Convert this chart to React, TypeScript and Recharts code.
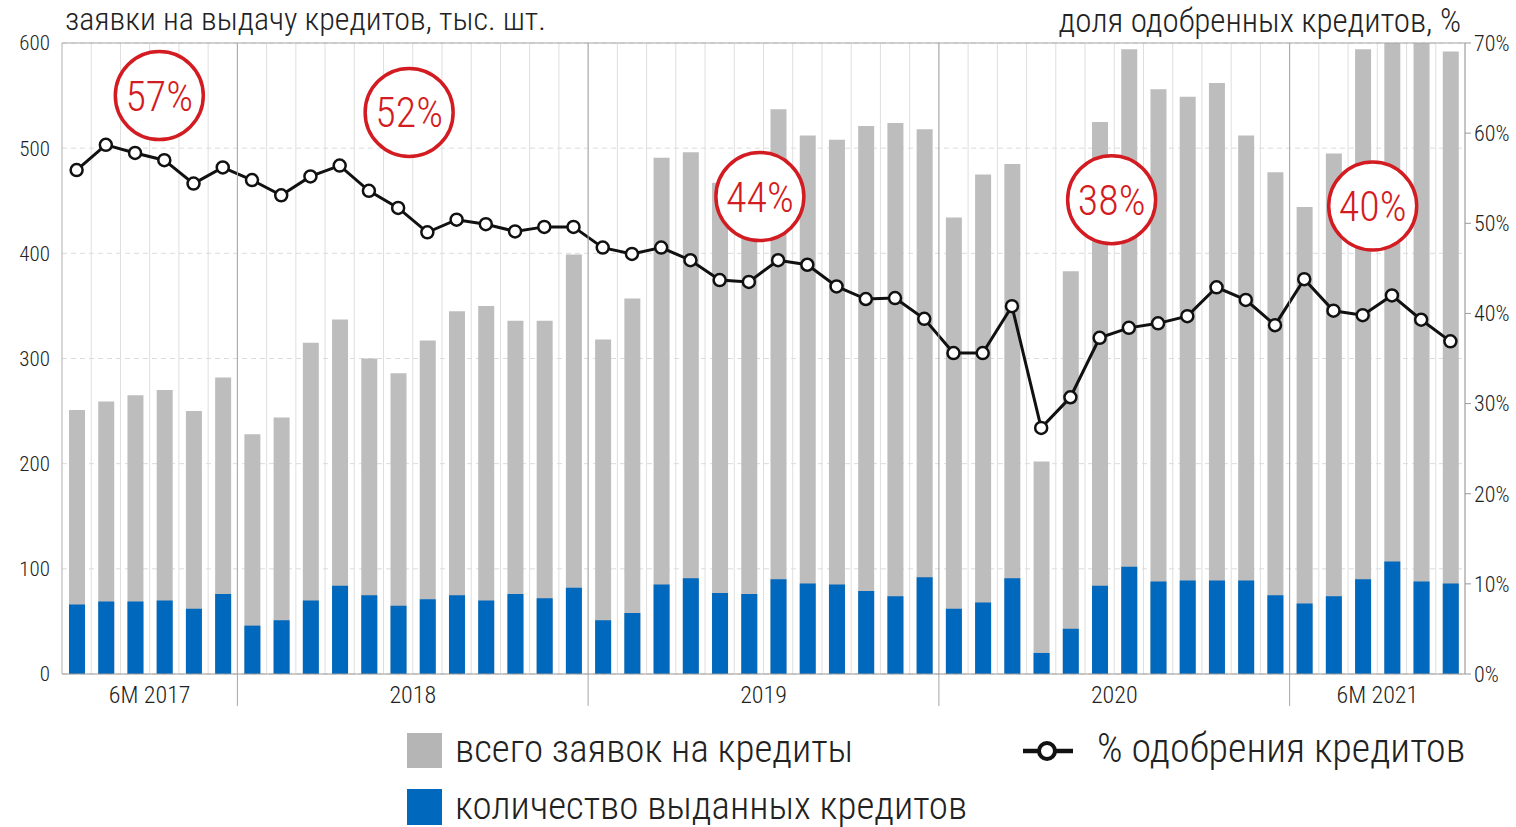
import React from "react";
import {
  ComposedChart,
  Bar,
  Line,
  XAxis,
  YAxis,
  CartesianGrid,
  ReferenceDot,
  ReferenceLine,
} from "recharts";

// months Jan 2017 .. Jun 2021
const MONTHS = [
  "2017-01", "2017-02", "2017-03", "2017-04", "2017-05", "2017-06",
  "2018-01", "2018-02", "2018-03", "2018-04", "2018-05", "2018-06",
  "2018-07", "2018-08", "2018-09", "2018-10", "2018-11", "2018-12",
  "2019-01", "2019-02", "2019-03", "2019-04", "2019-05", "2019-06",
  "2019-07", "2019-08", "2019-09", "2019-10", "2019-11", "2019-12",
  "2020-01", "2020-02", "2020-03", "2020-04", "2020-05", "2020-06",
  "2020-07", "2020-08", "2020-09", "2020-10", "2020-11", "2020-12",
  "2021-01", "2021-02", "2021-03", "2021-04", "2021-05", "2021-06",
];

// всего заявок, тыс. шт.
const TOTAL = [
  251, 259, 265, 270, 250, 282,
  228, 244, 315, 337, 300, 286, 317, 345, 350, 336, 336, 399,
  318, 357, 491, 496, 467, 450, 537, 512, 508, 521, 524, 518,
  434, 475, 485, 202, 383, 525, 594, 556, 549, 562, 512, 477,
  444, 495, 594, 620, 612, 592,
];

// выданные кредиты, тыс. шт.
const ISSUED = [
  66, 69, 69, 70, 62, 76,
  46, 51, 70, 84, 75, 65, 71, 75, 70, 76, 72, 82,
  51, 58, 85, 91, 77, 76, 90, 86, 85, 79, 74, 92,
  62, 68, 91, 20, 43, 84, 102, 88, 89, 89, 89, 75,
  67, 74, 90, 107, 88, 86,
];

// доля одобренных, %
const APPROVAL = [
  55.9, 58.7, 57.8, 57.0, 54.4, 56.2,
  54.8, 53.1, 55.2, 56.4, 53.6, 51.7, 49.0, 50.4, 49.9, 49.1, 49.6, 49.6,
  47.3, 46.6, 47.3, 45.9, 43.7, 43.5, 45.9, 45.4, 43.0, 41.6, 41.7, 39.4,
  35.6, 35.6, 40.8, 27.3, 30.7, 37.3, 38.4, 38.9, 39.7, 42.9, 41.5, 38.7,
  43.8, 40.3, 39.8, 42.0, 39.3, 36.9,
];

const GROUPS = [
  { label: "6M 2017", start: 0, len: 6 },
  { label: "2018", start: 6, len: 12 },
  { label: "2019", start: 18, len: 12 },
  { label: "2020", start: 30, len: 12 },
  { label: "6M 2021", start: 42, len: 6 },
];

// yearly averages shown in circles (month they sit near, left-axis height, nudge in px)
const BADGES = [
  { month: "2017-04", y: 550, dx: -5, text: "57%" },
  { month: "2018-06", y: 534, dx: 11, text: "52%" },
  { month: "2019-06", y: 454, dx: 11, text: "44%" },
  { month: "2020-06", y: 451, dx: 12, text: "38%" },
  { month: "2021-03", y: 445, dx: 10, text: "40%" },
];

const LEFT_TICKS = [0, 100, 200, 300, 400, 500, 600];
const RIGHT_TICKS = [0, 10, 20, 30, 40, 50, 60, 70];

const GRAY = "#bdbdbd";
const BLUE = "#0069bd";
const RED = "#d21c22";
const FONT =
  "'Roboto Condensed', 'Liberation Sans Narrow', 'DejaVu Sans Condensed', Roboto, sans-serif";

const W = 1516;
const H = 827;
const PLOT_TOP = 43;
const PLOT_BOTTOM = 674;
const PLOT_LEFT = 62;
const PLOT_RIGHT = 1465;
const BAND = (PLOT_RIGHT - PLOT_LEFT) / MONTHS.length;

const data = MONTHS.map((m, i) => ({
  month: m,
  total: TOTAL[i],
  issued: ISSUED[i],
  approval: APPROVAL[i],
}));

function GroupTick(props: any) {
  const { x, payload } = props;
  const i = payload.index;
  const half = payload.offset || BAND / 2;
  const items: React.ReactNode[] = [];
  GROUPS.forEach((g) => {
    if (i === g.start && g.start > 0) {
      items.push(
        <line
          key="sep"
          x1={x - half}
          x2={x - half}
          y1={PLOT_TOP}
          y2={PLOT_BOTTOM + 32}
          stroke="#a6a6a6"
          strokeWidth={1}
        />
      );
    }
    if (i === g.start + g.len / 2) {
      items.push(
        <text
          key="lbl"
          x={x - half}
          y={PLOT_BOTTOM + 29}
          textAnchor="middle"
          fontSize={24}
          fill="#222"
          style={{ fontFamily: FONT, fontStretch: "condensed", fontWeight: 300 }}
        >
          {g.label}
        </text>
      );
    }
  });
  return <g>{items}</g>;
}

function Badge(props: any) {
  const { cx, cy, text, dx } = props;
  const x = cx + dx;
  return (
    <g>
      <circle cx={x} cy={cy} r={44} fill="#fff" stroke={RED} strokeWidth={3.5} />
      <text
        x={x}
        y={cy + 15}
        textAnchor="middle"
        fontSize={42}
        fill={RED}
        style={{ fontFamily: FONT, fontStretch: "condensed", fontWeight: 300 }}
      >
        {text}
      </text>
    </g>
  );
}

const tickStyle = {
  fill: "#222",
  fontSize: 21,
  fontFamily: FONT,
  fontStretch: "condensed",
  fontWeight: 300,
};

export default function App() {
  return (
    <div
      style={{
        position: "absolute",
        left: 0,
        top: 0,
        width: W,
        height: H,
        background: "#fff",
        fontFamily: FONT,
        fontStretch: "condensed",
        fontWeight: 300,
        color: "#222",
      }}
    >
      <div style={{ position: "absolute", left: 65, top: 1, fontSize: 32, lineHeight: "36px", whiteSpace: "nowrap" }}>
        заявки на выдачу кредитов, тыс. шт.
      </div>
      <div
        style={{
          position: "absolute",
          right: W - 1461,
          top: 3,
          fontSize: 33,
          lineHeight: "36px",
          whiteSpace: "nowrap",
        }}
      >
        доля одобренных кредитов, %
      </div>

      <ComposedChart
        width={W}
        height={H}
        data={data}
        margin={{ top: PLOT_TOP, right: 0, bottom: H - PLOT_BOTTOM - 40, left: 0 }}
        barGap={-16}
        style={{ position: "absolute", left: 0, top: 0 }}
      >
        <CartesianGrid
          yAxisId="left"
          horizontal={false}
          stroke="#dedede"
          verticalCoordinatesGenerator={({ offset }: any) =>
            MONTHS.map((_, i) => offset.left + ((i + 1) * offset.width) / MONTHS.length)
          }
        />
        <CartesianGrid
          yAxisId="left"
          vertical={false}
          stroke="#dcdcdc"
          strokeDasharray="5 4"
        />
        <XAxis
          dataKey="month"
          height={40}
          interval={0}
          tick={<GroupTick />}
          tickLine={false}
          axisLine={{ stroke: "#9a9a9a" }}
        />
        <YAxis
          yAxisId="left"
          width={PLOT_LEFT}
          domain={[0, 600]}
          ticks={LEFT_TICKS}
          allowDataOverflow
          tickLine={false}
          tickMargin={6}
          axisLine={{ stroke: "#b0b0b0" }}
          tick={tickStyle}
        />
        <YAxis
          yAxisId="right"
          orientation="right"
          width={W - PLOT_RIGHT}
          domain={[0, 70]}
          ticks={RIGHT_TICKS}
          tickFormatter={(v: number) => `${v}%`}
          tickSize={6}
          tickMargin={3}
          tickLine={{ stroke: "#9a9a9a" }}
          axisLine={{ stroke: "#9a9a9a" }}
          tick={{ ...tickStyle, fontSize: 22 }}
        />
        <ReferenceLine yAxisId="left" y={600} stroke="#a6a6a6" strokeWidth={1} />
        <Bar
          yAxisId="left"
          dataKey="total"
          fill={GRAY}
          barSize={16}
          isAnimationActive={false}
        />
        <Bar
          yAxisId="left"
          dataKey="issued"
          fill={BLUE}
          barSize={16}
          isAnimationActive={false}
        />
        <Line
          yAxisId="right"
          dataKey="approval"
          stroke="#111"
          strokeWidth={3}
          dot={{ r: 6, fill: "#fff", stroke: "#111", strokeWidth: 2.5 }}
          isAnimationActive={false}
        />
        {BADGES.map((b) => (
          <ReferenceDot
            key={b.text}
            yAxisId="left"
            x={b.month}
            y={b.y}
            shape={(p: any) => <Badge {...p} text={b.text} dx={b.dx} />}
          />
        ))}
      </ComposedChart>

      {/* legend */}
      <div style={{ position: "absolute", left: 407, top: 733, width: 35, height: 35, background: "#b5b5b5" }} />
      <div style={{ position: "absolute", left: 455, top: 728, fontSize: 39, lineHeight: "42px", whiteSpace: "nowrap" }}>
        всего заявок на кредиты
      </div>
      <div style={{ position: "absolute", left: 407, top: 789, width: 35, height: 36, background: BLUE }} />
      <div style={{ position: "absolute", left: 455, top: 785, fontSize: 39, lineHeight: "42px", whiteSpace: "nowrap" }}>
        количество выданных кредитов
      </div>
      <svg style={{ position: "absolute", left: 1020, top: 738 }} width={56} height={26}>
        <line x1={3} x2={53} y1={13} y2={13} stroke="#111" strokeWidth={4.5} />
        <circle cx={27} cy={13} r={8} fill="#fff" stroke="#111" strokeWidth={4} />
      </svg>
      <div style={{ position: "absolute", left: 1097, top: 728, fontSize: 40, lineHeight: "42px", whiteSpace: "nowrap" }}>
        % одобрения кредитов
      </div>
    </div>
  );
}
